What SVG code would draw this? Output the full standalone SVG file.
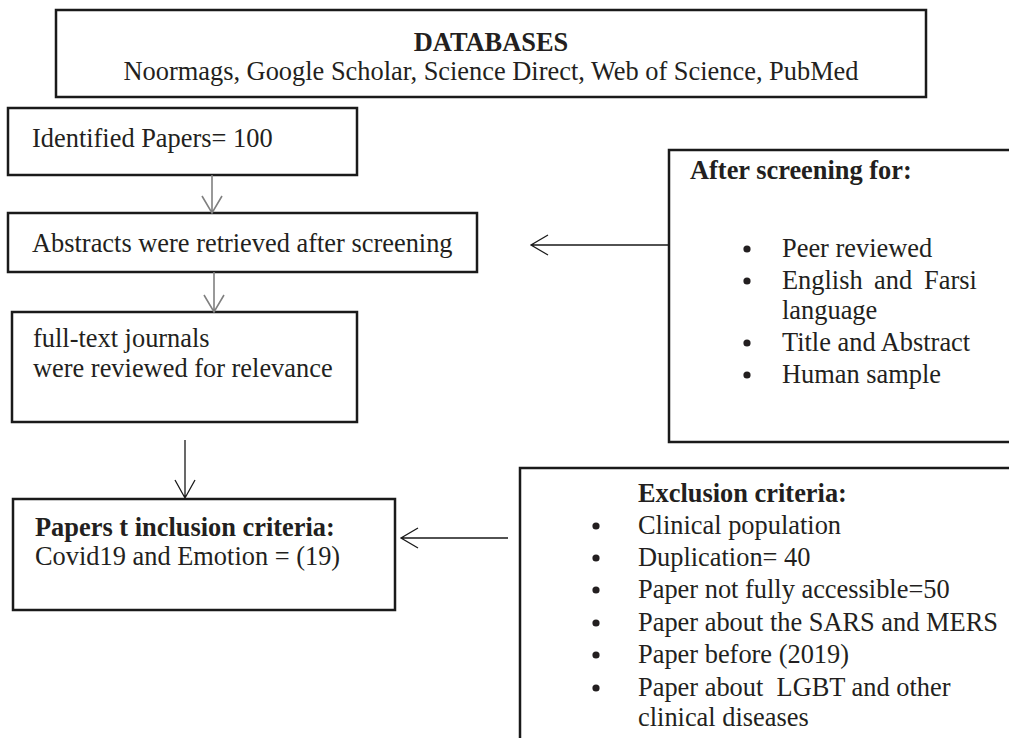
<svg xmlns="http://www.w3.org/2000/svg" width="1009" height="738" viewBox="0 0 1009 738">
<style>
  .box { fill: #fff; stroke: #1a1a1a; stroke-width: 2.5; }
  .t { font-family: "Liberation Serif", "Times New Roman", serif; font-size: 26.4px; fill: #231f20; }
  .b { font-weight: bold; }
  .gray { stroke: #808080; stroke-width: 1.6; fill: none; }
  .blk { stroke: #1a1a1a; stroke-width: 1.3; fill: none; }
  .dot { fill: #231f20; }
</style>
<rect width="1009" height="738" fill="#fff"/>

<g id="databases">
  <rect class="box" x="56" y="10" width="870" height="87" stroke-width="3"/>
  <text class="t b" x="491" y="51" text-anchor="middle">DATABASES</text>
  <text class="t" x="491" y="80" text-anchor="middle">Noormags, Google Scholar, Science Direct, Web of Science, PubMed</text>
</g>

<g id="identified">
  <rect class="box" x="8" y="108" width="349" height="67"/>
  <text class="t" x="32" y="147">Identified Papers= 100</text>
</g>

<g id="abstracts">
  <rect class="box" x="8" y="213" width="469" height="59"/>
  <text class="t" x="32" y="252">Abstracts were retrieved after screening</text>
</g>

<g id="fulltext">
  <rect class="box" x="12" y="312" width="345" height="110"/>
  <text class="t" x="33" y="347">full-text journals</text>
  <text class="t" x="33" y="377">were reviewed for relevance</text>
</g>

<g id="inclusion">
  <rect class="box" x="13" y="499" width="382" height="111"/>
  <text class="t b" x="35" y="536">Papers t inclusion criteria:</text>
  <text class="t" x="35" y="565">Covid19 and Emotion = (19)</text>
</g>

<g id="screening">
  <rect class="box" x="669" y="150" width="350" height="292"/>
  <text class="t b" x="690" y="179">After screening for:</text>
  <circle class="dot" cx="747" cy="249" r="3.6"/>
  <text class="t" x="782" y="257">Peer reviewed</text>
  <circle class="dot" cx="747" cy="281" r="3.6"/>
  <text class="t" y="289"><tspan x="782">English</tspan><tspan x="874">and</tspan><tspan x="924">Farsi</tspan></text>
  <text class="t" x="782" y="319">language</text>
  <circle class="dot" cx="747" cy="343" r="3.6"/>
  <text class="t" x="782" y="351">Title and Abstract</text>
  <circle class="dot" cx="747" cy="375" r="3.6"/>
  <text class="t" x="782" y="383">Human sample</text>
</g>

<g id="exclusion">
  <rect class="box" x="520" y="468" width="500" height="290"/>
  <text class="t b" x="638" y="502">Exclusion criteria:</text>
  <circle class="dot" cx="596" cy="526" r="3.6"/>
  <text class="t" x="638" y="534">Clinical population</text>
  <circle class="dot" cx="596" cy="558" r="3.6"/>
  <text class="t" x="638" y="566">Duplication= 40</text>
  <circle class="dot" cx="596" cy="590" r="3.6"/>
  <text class="t" x="638" y="598">Paper not fully accessible=50</text>
  <circle class="dot" cx="596" cy="623" r="3.6"/>
  <text class="t" x="638" y="631">Paper about the SARS and MERS</text>
  <circle class="dot" cx="596" cy="655" r="3.6"/>
  <text class="t" x="638" y="663">Paper before (2019)</text>
  <circle class="dot" cx="596" cy="688" r="3.6"/>
  <text class="t" x="638" y="696" xml:space="preserve">Paper about  LGBT and other</text>
  <text class="t" x="638" y="726">clinical diseases</text>
</g>

<g id="connectors">
  <path class="gray" d="M212 175 V213 M202 196 L212 213 L222 196"/>
  <path class="gray" d="M214 272 V312 M204 295 L214 312 L224 295"/>
  <path class="blk" d="M185 440 V498 M175 480 L185 498 L195 480"/>
  <path class="blk" d="M669 245 H531 M548 235 L531 245 L548 255"/>
  <path class="blk" d="M508 538 H401 M418 528 L401 538 L418 548"/>
</g>
</svg>
